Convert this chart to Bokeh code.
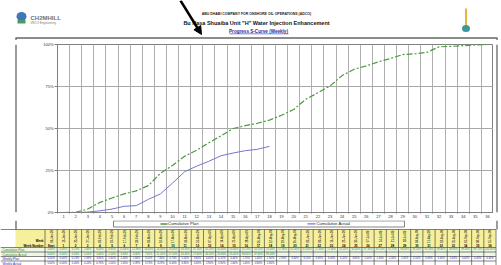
import math
from bokeh.plotting import figure
from bokeh.layouts import column, row
from bokeh.models import Range1d, FixedTicker, Arrow, NormalHead
from bokeh.core.properties import value
from bokeh.embed import file_html
from bokeh.resources import INLINE

# ---------------- data ----------------
weeks = list(range(1, 37))
week_labels = [str(w) for w in weeks]
plan_cum = [0.0, 0.13, 2.06, 6.0, 8.6, 11.06, 12.9, 16.0, 23.3, 28.0,
            33.5, 37.1, 41.5, 45.6, 50.0, 51.7, 53.1, 55.0, 57.9, 61.3,
            67.4, 71.3, 75.3, 81.5, 85.3, 87.3, 89.7, 91.7, 94.0, 94.5,
            95.3, 98.6, 98.9, 99.3, 99.7, 100.0]
actual_weeks = list(range(1, 19))
actual_cum = [0.0, 0.0, 0.24, 1.0, 2.04, 3.69, 4.08, 7.81, 11.1, 17.5,
              24.3, 27.6, 30.5, 33.8, 35.4, 36.8, 37.6, 39.4]
y_ticks = [0, 25, 50, 75, 100]
y_tick_labels = ["0%", "25%", "50%", "75%", "100%"]
week_dates = ["06-Jan-09", "13-Jan-09", "20-Jan-09", "27-Jan-09", "03-Feb-09", "10-Feb-09",
              "17-Feb-09", "24-Feb-09", "03-Mar-09", "10-Mar-09", "17-Mar-09", "24-Mar-09",
              "31-Mar-09", "07-Apr-09", "14-Apr-09", "21-Apr-09", "28-Apr-09", "05-May-09",
              "12-May-09", "19-May-09", "26-May-09", "02-Jun-09", "09-Jun-09", "16-Jun-09",
              "23-Jun-09", "30-Jun-09", "07-Jul-09", "14-Jul-09", "21-Jul-09", "28-Jul-09",
              "04-Aug-09", "11-Aug-09", "18-Aug-09", "25-Aug-09", "01-Sep-09", "08-Sep-09",
              "15-Sep-09"]
row_names = ["Cumulative Plan", "Cumulative Actual", "Weekly Plan", "Weekly Actual"]
series_names = ["Cumulative Plan", "Cumulative Actual"]

FONT = "Liberation Sans"
PLAN_COLOR = "#4a9a3e"
ACT_COLOR = "#7676cc"
FRAME = "#666666"
TXT_GREEN = "#2e8a2e"
TXT_BLUE = "#2a2aa0"

PAGE_W = 501


def canvas(x0, x1, y0, y1):
    """A blank figure whose data coordinates equal page pixels (y downwards)."""
    f = figure(width=int(x1 - x0), height=int(y1 - y0), output_backend="svg", toolbar_location=None,
               x_range=Range1d(x0, x1), y_range=Range1d(y1, y0),
               x_axis_location=None, y_axis_location=None, min_border=0,
               outline_line_color=None, background_fill_color="white",
               border_fill_color="white")
    f.grid.visible = False
    return f


def txt(f, x, y, t, size, color="#000000", bold=False, align="left", angle=0):
    f.text(x=x if isinstance(x, list) else [x], y=y if isinstance(y, list) else [y],
           text=t if isinstance(t, list) else [t],
           text_font=value(FONT), text_font_size=value(f"{size}px"), text_color=color,
           text_font_style="bold" if bold else "normal", text_align=align,
           text_baseline="middle", angle=angle)


def vline(f, x, y0, y1):
    f.segment(x0=[x], y0=[y0], x1=[x], y1=[y1], line_color=FRAME, line_width=1.3)


# ---------------- header (page y 0..40) ----------------
HDR_Y1 = 40
hdr = canvas(0, PAGE_W, 0, HDR_Y1)
txt(hdr, 256, 13.5, "ABU DHABI COMPANY FOR ONSHORE OIL OPERATIONS (ADCO)", 3.5, "#222222", True, "center")
txt(hdr, 256, 22, 'Bu Hasa Shuaiba Unit "H" Water Injection Enhancement', 5.5, "#111111", True, "center")
txt(hdr, 258, 30.5, "Progress S-Curve (Weekly)", 4.6, TXT_BLUE, True, "center")
hdr.segment(x0=[229], y0=[33.3], x1=[288], y1=[33.3], line_color=TXT_BLUE, line_width=0.6)
# left logo
hdr.ellipse(x=[21], y=[16], width=[10], height=[9], fill_color="#3e78b8", line_color=None)
hdr.quad(left=[17], right=[25], top=[19.5], bottom=[23], fill_color="#4a9a6a", line_color=None)
txt(hdr, 30, 17, "CH2MHILL", 6, "#707070", True)
txt(hdr, 30, 22, "VECO Engineering", 3, "#7a7a7a")
# right logo
hdr.segment(x0=[465.5], y0=[8], x1=[465.5], y1=[25], line_color="#e0b840", line_width=2)
hdr.ellipse(x=[465.5], y=[28], width=[8], height=[7], fill_color="#3a9a9a", line_color=None)
# arrow
hdr.add_layout(Arrow(x_start=180, y_start=0, x_end=201, y_end=34, line_color="black", line_width=2.5,
                     end=NormalHead(size=8, fill_color="black", line_color="black")))
# top and sides of the chart frame
hdr.segment(x0=[15], y0=[37.5], x1=[497], y1=[37.5], line_color=FRAME, line_width=1.3)
vline(hdr, 15.5, 37.5, HDR_Y1)
vline(hdr, 496.5, 37.5, HDR_Y1)

CH_Y0, CH_Y1 = HDR_Y1, 220

# ---------------- side strips ----------------
lstrip = canvas(0, 20, CH_Y0, CH_Y1)
vline(lstrip, 15.5, CH_Y0, CH_Y1)
rstrip = canvas(493, PAGE_W, CH_Y0, CH_Y1)
vline(rstrip, 496.5, CH_Y0, CH_Y1)

# ---------------- chart (page x 20..493) ----------------
p = figure(width=493 - 20, height=CH_Y1 - CH_Y0, output_backend="svg", toolbar_location=None,
           x_range=Range1d(0.5, 36.5), y_range=Range1d(0, 100),
           min_border_left=37, min_border_right=0, min_border_top=4, min_border_bottom=7,
           background_fill_color="white", border_fill_color="white")
p.outline_line_color = "#808080"

p.yaxis.ticker = FixedTicker(ticks=y_ticks)
p.yaxis.major_label_overrides = {t: l for t, l in zip(y_ticks, y_tick_labels)}
p.xaxis.ticker = FixedTicker(ticks=weeks, minor_ticks=[w - 0.5 for w in range(1, 38)])
p.xaxis.major_label_overrides = {w: l for w, l in zip(weeks, week_labels)}
for ax in (p.xaxis[0], p.yaxis[0]):
    ax.axis_line_color = "#808080"
    ax.major_tick_line_color = "#808080"
    ax.minor_tick_line_color = "#808080"
    ax.major_label_text_font = FONT
    ax.major_label_text_font_size = "4px"
    ax.major_label_text_color = "#333333"
    ax.major_tick_in = 0
    ax.minor_tick_in = 0
p.yaxis.major_tick_out = 3
p.yaxis.minor_tick_out = 0
p.yaxis.major_label_standoff = 1
p.xaxis.major_tick_out = 0
p.xaxis.minor_tick_out = 1
p.xaxis.major_label_standoff = 1

p.xgrid.ticker = FixedTicker(ticks=[w - 0.5 for w in range(1, 38)])
p.ygrid.ticker = FixedTicker(ticks=y_ticks)
p.xgrid.grid_line_color = "#b0b0b0"
p.ygrid.grid_line_color = "#a8a8a8"

p.line(weeks, plan_cum, line_color=PLAN_COLOR, line_width=1.2, line_dash="6 2 2 2")
p.line(actual_weeks, actual_cum, line_color=ACT_COLOR, line_width=1)

# ---------------- legend + table (page y 220..265) ----------------
tb = canvas(0, PAGE_W, CH_Y1, 265)
vline(tb, 15.5, CH_Y1, 229)
vline(tb, 496.5, CH_Y1, 229)
# legend box
tb.quad(left=[113], right=[404], top=[220.4], bottom=[226.5], fill_color="white", line_color=FRAME, line_width=0.8)
tb.segment(x0=[160], y0=[223.4], x1=[167], y1=[223.4], line_color=PLAN_COLOR, line_width=1.5)
txt(tb, 167.5, 223.4, series_names[0], 4.2, "#222222")
tb.segment(x0=[307], y0=[223.4], x1=[315], y1=[223.4], line_color=ACT_COLOR, line_width=1.2)
txt(tb, 316, 223.4, series_names[1], 4.2, "#222222")

col_w = 12.19
col_x0 = 44.5
ncol = 37
x_end = col_x0 + col_w * ncol
centers = [col_x0 + col_w * (j + 0.5) for j in range(ncol)]
y_top, y_hdr_end = 229, 247
row_h = 4.5

tb.quad(left=[15], right=[x_end], top=[y_top], bottom=[y_hdr_end], fill_color="#f6ef9c", line_color=None)
tb.quad(left=[0], right=[x_end], top=[y_hdr_end], bottom=[y_hdr_end + 2 * row_h],
        fill_color="#eef6e4", line_color=None)
txt(tb, 43, 240.5, "Week", 3, "#000000", True, "right")
txt(tb, 43, 245, "Week Number", 3, "#000000", True, "right")

vx = [col_x0 + col_w * j for j in range(ncol + 1)]
tb.segment(x0=vx, y0=[y_top] * len(vx), x1=vx, y1=[265] * len(vx), line_color="#303030", line_width=0.6)
hy = [y_top, y_hdr_end] + [y_hdr_end + row_h * k for k in range(1, 4)]
tb.segment(x0=[0] * len(hy), y0=hy, x1=[x_end] * len(hy), y1=hy, line_color="#303030", line_width=0.6)

txt(tb, centers, [236] * ncol, week_dates, 2.8, "#000000", False, "center", math.pi / 2)
txt(tb, centers, [245] * ncol, ["Start"] + week_labels, 3, "#000000", True, "center")

plan_week = [plan_cum[0]] + [round(plan_cum[i] - plan_cum[i - 1], 2) for i in range(1, len(plan_cum))]
act_week = [actual_cum[0]] + [round(actual_cum[i] - actual_cum[i - 1], 2) for i in range(1, len(actual_cum))]
rows = [
    (["0.00%"] + [f"{v:.2f}%" for v in plan_cum], TXT_GREEN),
    (["0.00%"] + [f"{v:.2f}%" for v in actual_cum], TXT_GREEN),
    (["0.00%"] + [f"{v:.2f}%" for v in plan_week], TXT_BLUE),
    (["0.00%"] + [f"{v:.2f}%" for v in act_week], TXT_BLUE),
]
for k, ((vals, color), name) in enumerate(zip(rows, row_names)):
    yc = y_hdr_end + row_h * (k + 0.5)
    txt(tb, 2, yc, name, 3, color)
    txt(tb, centers[:len(vals)], [yc] * len(vals), vals, 2.6, color, False, "center")

layout = column(row(hdr), row(lstrip, p, rstrip), row(tb))
open("out.html", "w").write(file_html(layout, INLINE))
